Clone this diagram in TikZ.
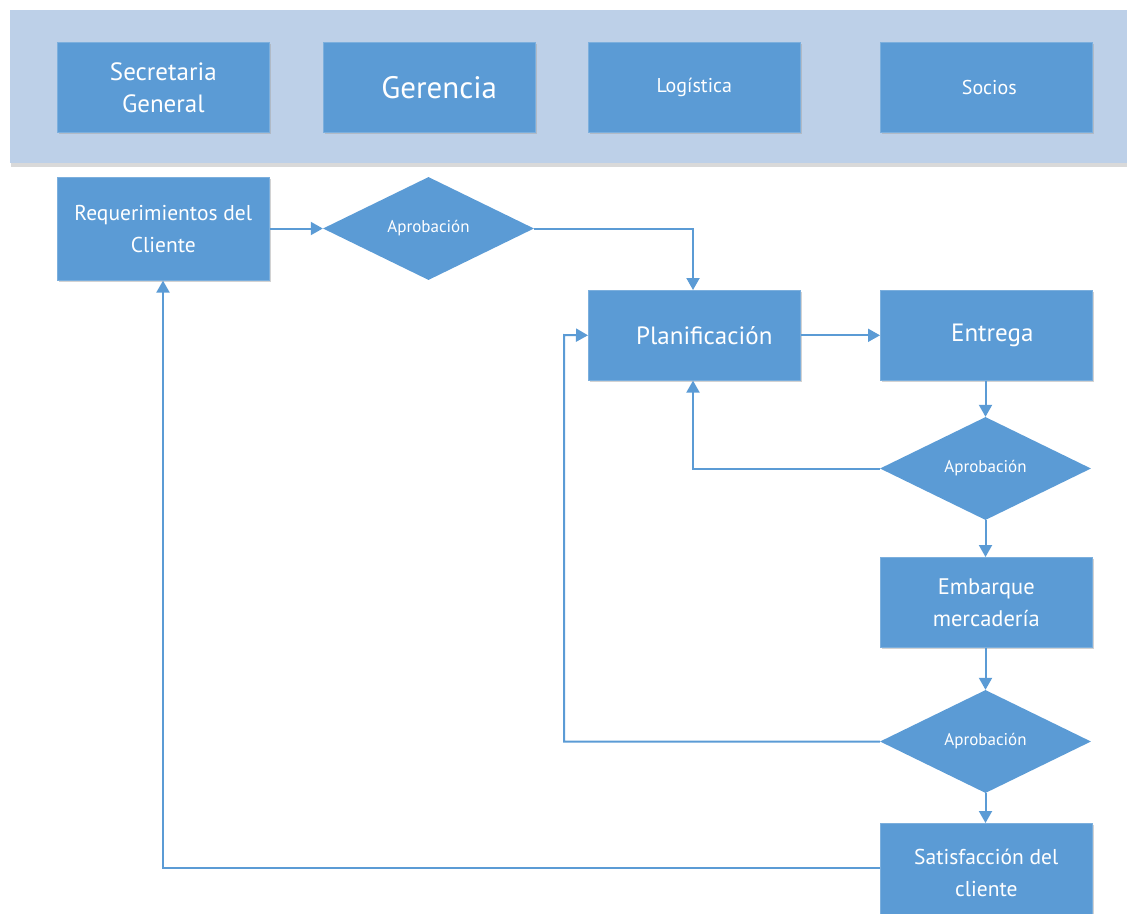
\documentclass[tikz,border=0pt]{standalone}
\usepackage{fontspec}
\setmainfont{PT Sans}
\usetikzlibrary{arrows.meta,shapes.geometric,shadows}
\definecolor{boxblue}{HTML}{5B9BD5}
\definecolor{bandblue}{HTML}{BDD0E8}
\definecolor{linkblue}{HTML}{5B9BD5}
\begin{document}
\begin{tikzpicture}[x=1pt,y=-1pt,
  box/.style={fill=boxblue,draw=boxblue!80!white,line width=0.6pt,minimum width=212pt,inner sep=0pt,
    text=white,align=center,anchor=north west,
    drop shadow={shadow xshift=1.5pt,shadow yshift=-2pt,fill=black!35,opacity=0.5}},
  dia/.style={diamond,fill=boxblue,draw=none,inner sep=0pt,aspect=2.05,minimum width=211pt,minimum height=103pt,
    text=white,font=\fontsize{17}{20}\selectfont},
  link/.style={draw=linkblue,line width=2pt,-{Triangle[width=13pt,length=12pt]}}]
\useasboundingbox (0,0) rectangle (1127,913);
% band
\fill[black!25,opacity=0.6] (11,13) rectangle (1127,167);
\fill[bandblue] (10,10) rectangle (1127,163);
% top boxes
\node[box,minimum height=90pt,font=\fontsize{25}{32}\selectfont] (sg) at (57,42) {Secretaria\\General};
\node[box,minimum height=90pt,font=\fontsize{31}{34}\selectfont] (ge) at (323,42) {\hspace*{20pt}Gerencia};
\node[box,minimum height=90pt,font=\fontsize{20}{22}\selectfont] (lo) at (588,42) {Logística};
\node[box,minimum height=90pt,font=\fontsize{20}{22}\selectfont] (so) at (880,42) {\hspace*{6pt}Socios};
% flow
\node[box,minimum height=103pt,font=\fontsize{21.5}{32}\selectfont] (req) at (57,177) {Requerimientos del\\Cliente};
\node[dia] (d1) at (428.5,228.5) {Aprobación};
\node[box,minimum height=90pt,font=\fontsize{25}{28}\selectfont] (pl) at (588,290) {\hspace*{20pt}Planificación};
\node[box,minimum height=90pt,font=\fontsize{25}{28}\selectfont] (en) at (880,290) {\hspace*{12pt}Entrega};
\node[dia] (d2) at (985.5,468.5) {Aprobación};
\node[box,minimum height=90pt,font=\fontsize{22.5}{32}\selectfont] (em) at (880,557) {Embarque\\mercadería};
\node[dia] (d3) at (985.5,741.5) {Aprobación};
\node[box,minimum height=100pt,font=\fontsize{21.5}{32}\selectfont] (sa) at (880,823) {Satisfacción del\\cliente};
% connectors
\coordinate (c1) at (693,228.5);
\coordinate (c2) at (693,468.5);
\coordinate (c3) at (564,741.5);
\coordinate (c4) at (564,335);
\coordinate (c5) at (163,868);
\draw[link] (req.east |- d1.west) -- (d1.west);
\draw[link] (d1.east) -- (c1) -- (pl.north -| c1);
\draw[link] (pl.east) -- (en.west);
\draw[link] (d2.north |- en.south) -- (d2.north);
\draw[link] (d2.west) -- (c2) -- (pl.south -| c2);
\draw[link] (d2.south) -- (d2.south |- em.north);
\draw[link] (d3.north |- em.south) -- (d3.north);
\draw[link] (d3.west) -- (c3) -- (c4) -- (pl.west);
\draw[link] (d3.south) -- (d3.south |- sa.north);
\draw[link] (sa.west |- c5) -- (c5) -- (req.south -| c5);
\end{tikzpicture}
\end{document}
